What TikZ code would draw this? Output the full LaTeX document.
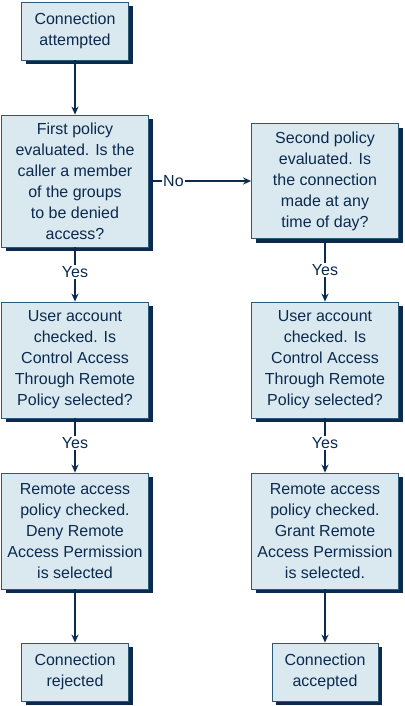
\documentclass[tikz,border=0pt]{standalone}
\usepackage{fontspec}
\setmainfont{Liberation Sans}
\usetikzlibrary{arrows.meta,shadows}
\definecolor{boxfill}{HTML}{DAE9F0}
\definecolor{boxline}{HTML}{2A5A78}
\definecolor{navy}{HTML}{0B2A4E}
\begin{document}
\begin{tikzpicture}[x=1pt,y=-1pt,
  box/.style={draw=boxline, line width=0.8pt, fill=boxfill, text=navy,
    align=center, inner sep=0pt, minimum width=147pt, minimum height=116pt,
    font=\fontsize{16}{21}\selectfont,
    drop shadow={shadow xshift=4pt, shadow yshift=-4pt, fill=navy, opacity=1}},
  endbox/.style={box, minimum width=107pt, minimum height=58pt},
  arr/.style={draw=navy, line width=1.4pt, -{Stealth[length=8pt,width=7pt]}},
  lbl/.style={fill=white, text=navy, inner sep=1.5pt, font=\fontsize{16}{18}\selectfont}]
\useasboundingbox (0,0) rectangle (404,706);
\node[endbox] (b1) at (75,31) {Connection\\attempted};
\node[box, minimum height=132pt] (b2) at (75,181) {First policy\\evaluated. Is the\\caller a member\\of the groups\\to be denied\\access?};
\node[box] (b3) at (75,360) {User account\\checked. Is\\Control Access\\Through Remote\\Policy selected?};
\node[box] (b4) at (75,531) {Remote access\\policy checked.\\Deny Remote\\Access Permission\\is selected};
\node[endbox] (b5) at (75,672) {Connection\\rejected};
\node[box, minimum height=115pt] (r2) at (325,181) {Second policy\\evaluated. Is\\the connection\\made at any\\time of day?};
\node[box] (r3) at (325,360) {User account\\checked. Is\\Control Access\\Through Remote\\Policy selected?};
\node[box] (r4) at (325,531) {Remote access\\policy checked.\\Grant Remote\\Access Permission\\is selected.};
\node[endbox, minimum width=106pt] (r5) at (325,672) {Connection\\accepted};
\draw[arr] (b1) -- (b2);
\draw[arr] (b2) -- node[lbl, pos=0.45] {Yes} (b3);
\draw[arr] (b3) -- node[lbl, pos=0.45] {Yes} (b4);
\draw[arr] (b4) -- (b5);
\draw[arr] (b2.east) -- node[lbl, pos=0.24] {No} (r2.west);
\draw[arr] (r2) -- node[lbl, pos=0.5] {Yes} (r3);
\draw[arr] (r3) -- node[lbl, pos=0.45] {Yes} (r4);
\draw[arr] (r4) -- (r5);
\end{tikzpicture}
\end{document}
